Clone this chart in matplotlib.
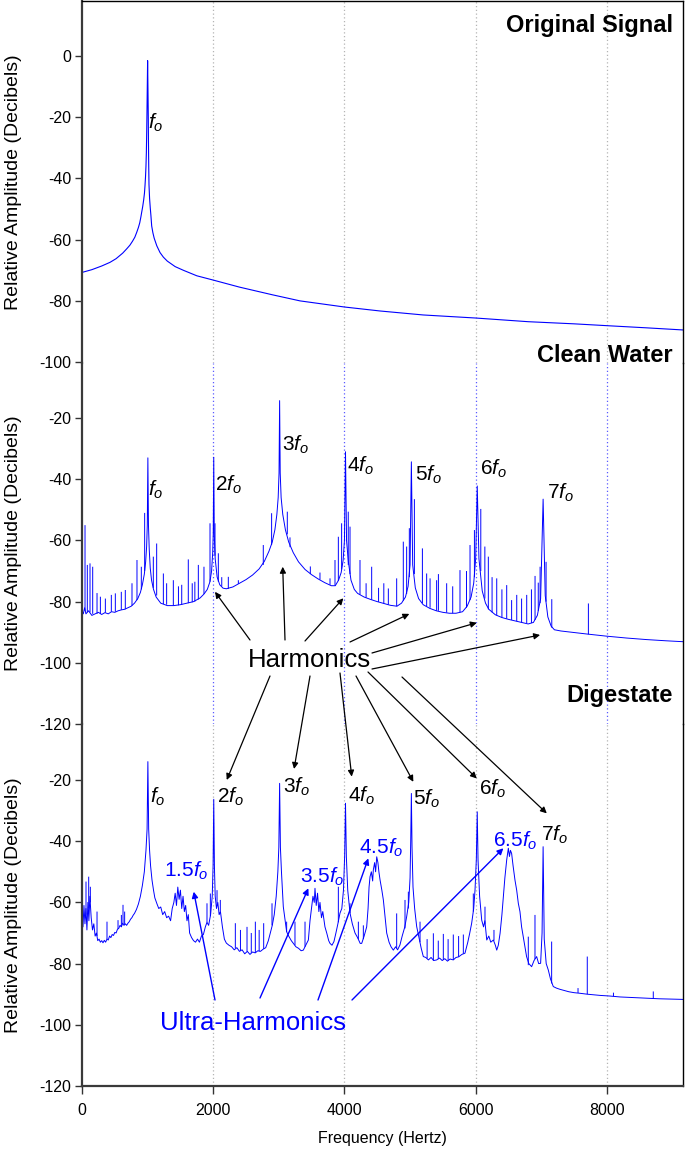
import numpy as np
import matplotlib
matplotlib.use('Agg')
import matplotlib.pyplot as plt

plt.rcParams['font.family'] = ['Liberation Sans', 'DejaVu Sans']
plt.rcParams['mathtext.fontset'] = 'custom'
plt.rcParams['mathtext.rm'] = 'Liberation Sans'
plt.rcParams['mathtext.it'] = 'Liberation Sans:italic'
plt.rcParams['axes.unicode_minus'] = False

# ---------------- data ----------------
# original signal spectrum (freq Hz, dB)
orig_trace = [
    (0, -70.7), (150, -69.8), (300, -68.6), (427, -67.4), (520, -66.2), (620, -64.4),
    (681, -63.0), (730, -61.8), (770, -60.5), (805, -59.2), (834, -57.6), (860, -56.0),
    (880, -54.5), (898, -52.5), (910, -51.0), (925, -49.2), (940, -47.0), (952, -44.8),
    (960, -42.4), (968, -39.5), (975, -36.0), (981, -31.5), (986, -25.0), (990, -19.0),
    (994, -12.0), (1000, -1.5), (1006, -12.0), (1010, -19.5), (1013, -28.0), (1017, -36.0),
    (1021, -42.0), (1030, -46.5), (1040, -49.5), (1050, -52.0), (1062, -55.5), (1080, -57.7),
    (1100, -59.5), (1140, -62.0), (1189, -64.2), (1240, -65.7), (1300, -67.0), (1420, -68.8),
    (1545, -70.0), (1750, -71.8), (2000, -73.2), (2400, -75.5), (2900, -78.0), (3323, -80.0),
    (4000, -82.0), (4543, -83.3), (5200, -84.6), (6000, -85.6), (6800, -86.8), (7500, -87.5),
    (8000, -88.1), (8600, -88.8), (9160, -89.5),
]

# clean water spectrum: baseline trace (freq, dB)
water_trace = [
    (0, -83.0), (20, -84.0), (40, -82.0), (60, -84.0), (100, -83.0), (150, -84.5), (200, -84.0),
    (250, -83.5), (300, -84.2), (350, -83.6), (400, -84.0), (450, -83.3), (500, -83.5),
    (550, -83.0), (600, -82.7), (650, -82.5), (700, -82.0), (750, -81.5), (800, -80.5),
    (850, -79.0), (890, -77.0), (920, -74.5), (950, -71.0), (970, -67.0), (985, -62.0),
    (995, -55.0), (1004, -33.0), (1013, -55.0), (1025, -63.0), (1040, -69.0), (1060, -73.0),
    (1090, -76.0), (1130, -78.5), (1200, -80.5), (1300, -81.3), (1400, -81.3), (1500, -81.0),
    (1600, -80.5), (1700, -80.0), (1800, -78.8), (1860, -77.5), (1910, -76.0), (1950, -73.5),
    (1975, -70.0), (1992, -64.0), (2000, -58.0), (2008, -32.8), (2016, -58.0), (2030, -66.0),
    (2060, -72.0), (2100, -74.5), (2150, -75.6), (2200, -75.8), (2300, -75.2), (2400, -74.0),
    (2500, -72.8), (2600, -71.3), (2700, -69.3), (2780, -66.8), (2850, -63.5), (2900, -60.5),
    (2940, -56.5), (2970, -51.5), (2990, -46.0), (3003, -38.0), (3012, -14.3), (3021, -38.0),
    (3035, -46.0), (3060, -51.5), (3100, -56.5), (3150, -60.5), (3220, -64.0), (3300, -67.0),
    (3400, -69.5), (3500, -71.2), (3600, -72.6), (3700, -73.8), (3800, -74.8), (3860, -74.8),
    (3910, -73.0), (3950, -70.5), (3980, -66.5), (4000, -60.0), (4016, -31.0), (4032, -60.0),
    (4060, -67.0), (4100, -73.0), (4150, -76.0), (4200, -77.3), (4300, -78.5), (4400, -79.3),
    (4500, -80.0), (4600, -80.6), (4700, -81.2), (4800, -81.5), (4870, -80.5), (4930, -78.5),
    (4970, -75.0), (5000, -68.0), (5020, -34.3), (5040, -68.0), (5080, -75.5), (5130, -79.0),
    (5200, -81.0), (5300, -82.2), (5400, -83.0), (5500, -83.5), (5600, -83.8), (5700, -83.8),
    (5800, -83.3), (5870, -81.5), (5930, -78.5), (5970, -74.0), (6000, -66.0), (6024, -42.2),
    (6050, -66.0), (6100, -76.5), (6150, -80.5), (6200, -82.5), (6300, -84.3), (6400, -85.2),
    (6500, -85.8), (6600, -86.3), (6700, -86.8), (6800, -87.3), (6880, -86.8), (6940, -84.5),
    (6990, -79.0), (7028, -46.5), (7060, -78.0), (7100, -85.0), (7150, -88.0), (7200, -89.2),
    (7300, -89.6), (7500, -90.1), (7700, -90.6), (8000, -91.3), (8300, -91.9), (8600, -92.4),
    (8900, -92.8), (9160, -93.1),
]

# clean water narrow spikes (freq, bottom dB, top dB)
water_spikes = [
    (46, -83.0, -55.0), (81, -83.5, -68.0), (122, -83.5, -67.5), (163, -84.0, -68.6),
    (229, -84.0, -77.2), (280, -84.0, -78.4), (356, -83.6, -79.0), (447, -83.3, -77.8),
    (508, -83.3, -77.3), (599, -82.7, -76.8), (660, -82.5, -76.2), (762, -81.3, -74.0),
    (838, -79.5, -66.4), (904, -76.0, -68.6), (955, -70.0, -51.0), (1087, -75.5, -65.3),
    (1138, -78.0, -61.0), (1240, -80.8, -70.8), (1290, -81.0, -74.0), (1392, -81.3, -73.0),
    (1470, -81.2, -75.0), (1520, -81.0, -74.5), (1620, -80.5, -66.2), (1680, -80.2, -74.0),
    (1720, -80.0, -73.5), (1773, -79.3, -68.0), (1859, -77.5, -68.6), (1951, -73.5, -54.4),
    (2027, -65.0, -54.4), (2078, -73.5, -64.2), (2130, -75.0, -72.0), (2230, -75.8, -71.9),
    (2383, -74.2, -73.0), (2763, -68.0, -61.5), (2890, -61.5, -51.1), (3129, -58.0, -50.6),
    (3170, -62.2, -59.0), (3480, -71.0, -68.5), (3627, -72.8, -70.5), (3780, -74.5, -72.4),
    (3856, -74.8, -66.4), (3907, -73.2, -58.8), (3957, -69.5, -54.4), (4058, -68.0, -50.6),
    (4085, -71.0, -55.5), (4237, -77.7, -66.4), (4330, -78.7, -74.0), (4415, -79.4, -68.6),
    (4520, -80.1, -75.5), (4600, -80.6, -74.0), (4669, -81.0, -75.7), (4796, -81.5, -72.4),
    (4897, -79.7, -60.4), (4948, -77.5, -62.0), (4989, -72.0, -56.0), (5066, -71.0, -46.5),
    (5188, -80.5, -62.6), (5253, -81.5, -70.8), (5305, -82.0, -72.4), (5405, -83.0, -73.0),
    (5432, -83.0, -71.0), (5558, -83.6, -74.0), (5650, -83.8, -75.0), (5761, -83.5, -69.7),
    (5860, -82.0, -70.0), (5914, -79.5, -61.5), (5981, -72.0, -56.6), (6078, -70.0, -49.7),
    (6140, -79.0, -62.0), (6193, -82.5, -65.3), (6250, -83.5, -72.0), (6321, -84.5, -72.4),
    (6400, -85.2, -76.0), (6473, -85.6, -74.6), (6548, -86.0, -79.5), (6626, -86.4, -77.8),
    (6700, -86.8, -79.0), (6778, -87.0, -77.8), (6850, -87.0, -76.0), (6905, -86.0, -71.6),
    (6954, -83.0, -73.8), (6982, -80.5, -68.6), (7073, -80.0, -67.0), (7160, -88.5, -79.2),
    (7718, -90.7, -80.6),
]

# digestate spectrum: baseline trace (freq, dB)
dig_trace = [
    (0, -64.0), (15, -68.0), (30, -61.0), (45, -67.0), (60, -62.0), (75, -69.0), (90, -60.0),
    (105, -66.0), (120, -58.0), (140, -65.0), (160, -69.0), (180, -67.0), (200, -71.0),
    (220, -70.0), (240, -72.5), (260, -72.0), (280, -73.0), (300, -72.5), (320, -73.2),
    (340, -72.4), (360, -73.0), (380, -72.0), (400, -72.3), (420, -71.0), (440, -71.5),
    (460, -70.5), (480, -70.8), (500, -69.8), (520, -70.0), (540, -68.8), (560, -68.5),
    (580, -67.5), (600, -68.0), (620, -66.8), (640, -67.5), (660, -67.0), (680, -67.5),
    (700, -66.8), (720, -66.3), (740, -65.5), (760, -65.0), (780, -64.2), (800, -63.6),
    (830, -62.3), (860, -60.5), (890, -58.0), (920, -54.5), (950, -50.0), (975, -43.0),
    (992, -36.0), (1004, -14.0), (1016, -36.0), (1030, -43.0), (1045, -48.0), (1067, -52.7),
    (1090, -56.0), (1110, -58.5), (1143, -60.5), (1170, -62.0), (1200, -61.5), (1230, -64.0),
    (1260, -63.0), (1290, -65.0), (1320, -64.5), (1350, -66.0), (1375, -62.0), (1400, -60.0),
    (1420, -57.0), (1440, -61.0), (1460, -55.0), (1480, -59.0), (1500, -56.0), (1520, -62.0),
    (1540, -58.0), (1560, -63.0), (1580, -61.0), (1600, -66.0), (1620, -64.0), (1640, -70.0),
    (1670, -71.5), (1700, -72.5), (1730, -73.0), (1760, -72.0), (1790, -73.0), (1820, -71.0),
    (1850, -70.5), (1880, -68.0), (1905, -66.5), (1930, -67.5), (1960, -64.0), (1985, -58.0),
    (1998, -48.0), (2008, -26.3), (2018, -48.0), (2030, -58.0), (2050, -62.0), (2070, -60.0),
    (2090, -64.0), (2110, -63.0), (2140, -68.0), (2170, -72.0), (2200, -73.3), (2240, -74.0),
    (2280, -74.5), (2320, -75.5), (2360, -74.8), (2400, -76.0), (2440, -75.5), (2480, -76.8),
    (2520, -76.0), (2560, -77.0), (2600, -76.2), (2640, -76.5), (2680, -75.8), (2720, -76.0),
    (2760, -75.3), (2800, -74.8), (2840, -72.5), (2870, -70.0), (2900, -67.5), (2930, -64.0),
    (2960, -58.0), (2985, -50.0), (3000, -42.0), (3012, -21.1), (3024, -42.0), (3040, -50.0),
    (3068, -61.4), (3090, -65.0), (3119, -69.6), (3150, -71.0), (3190, -72.5), (3221, -73.4),
    (3260, -74.5), (3300, -75.0), (3340, -75.8), (3373, -75.6), (3410, -74.0), (3450, -72.3),
    (3475, -66.0), (3500, -61.4), (3520, -58.0), (3540, -60.0), (3551, -55.4), (3570, -61.0),
    (3590, -57.0), (3610, -63.0), (3627, -60.0), (3650, -65.0), (3670, -63.0), (3703, -68.0),
    (3730, -70.0), (3760, -72.5), (3780, -73.4), (3810, -74.0), (3840, -72.8), (3870, -70.0),
    (3900, -67.0), (3932, -63.5), (3960, -62.0), (3985, -56.0), (4003, -45.0), (4016, -27.6),
    (4029, -45.0), (4050, -56.0), (4085, -63.5), (4120, -67.0), (4161, -70.0), (4200, -71.5),
    (4240, -73.4), (4263, -73.4), (4300, -71.0), (4339, -68.0), (4360, -62.0), (4375, -55.0),
    (4390, -51.6), (4410, -50.0), (4430, -53.0), (4440, -49.4), (4460, -47.0), (4475, -50.0),
    (4492, -45.1), (4510, -47.0), (4525, -50.0), (4543, -52.7), (4570, -56.0), (4593, -59.2),
    (4620, -65.0), (4644, -70.0), (4680, -73.0), (4710, -74.5), (4745, -75.6), (4780, -74.5),
    (4810, -75.5), (4846, -73.9), (4880, -71.0), (4920, -68.0), (4948, -64.7), (4980, -60.0),
    (5000, -52.0), (5010, -40.0), (5020, -24.4), (5030, -42.0), (5045, -55.0), (5070, -62.0),
    (5101, -67.9), (5140, -72.0), (5170, -75.0), (5202, -77.7), (5240, -78.0), (5280, -78.8),
    (5320, -78.0), (5360, -79.0), (5405, -78.8), (5450, -78.2), (5490, -79.0), (5530, -78.4),
    (5570, -79.2), (5610, -78.5), (5659, -78.8), (5700, -78.0), (5740, -77.8), (5790, -77.0),
    (5837, -76.6), (5880, -73.0), (5910, -70.0), (5939, -66.8), (5970, -62.0), (5990, -56.0),
    (6010, -46.0), (6024, -30.4), (6036, -46.0), (6060, -58.0), (6092, -65.8), (6120, -68.0),
    (6140, -66.0), (6169, -72.3), (6200, -71.0), (6230, -73.0), (6270, -72.3), (6300, -74.0),
    (6321, -75.6), (6345, -74.0), (6372, -70.1), (6400, -64.0), (6422, -58.1), (6445, -52.0),
    (6473, -46.1), (6498, -42.3), (6515, -45.0), (6530, -43.0), (6548, -44.0), (6570, -48.0),
    (6599, -52.7), (6625, -56.0), (6650, -60.3), (6675, -63.0), (6700, -68.0), (6740, -73.0),
    (6776, -77.7), (6810, -80.0), (6853, -81.0), (6890, -79.0), (6929, -77.7), (6960, -80.0),
    (6990, -79.9), (7012, -70.0), (7028, -41.8), (7045, -72.0), (7075, -80.0), (7107, -82.1),
    (7140, -85.0), (7183, -87.5), (7230, -88.0), (7284, -88.4), (7350, -88.8), (7420, -89.2),
    (7500, -89.5), (7589, -89.7), (7700, -90.0), (7800, -90.2), (7900, -90.4), (8046, -90.6),
    (8200, -90.9), (8400, -91.1), (8600, -91.3), (8800, -91.5), (9000, -91.6), (9160, -91.7),
]

# digestate narrow spikes (freq, bottom dB, top dB)
dig_spikes = [
    (61, -64.0, -53.2), (102, -62.0, -51.6), (127, -60.0, -54.9), (229, -71.0, -63.0),
    (381, -72.0, -66.3), (549, -68.7, -65.8), (600, -68.0, -64.1), (625, -67.0, -60.8),
    (650, -67.3, -63.0), (1905, -66.5, -60.3), (1956, -64.5, -57.1), (2058, -61.0, -56.0),
    (2108, -63.0, -59.2), (2337, -75.0, -66.8), (2415, -75.8, -69.0), (2515, -76.0, -68.0),
    (2580, -76.5, -70.0), (2642, -76.5, -66.3), (2700, -76.0, -69.0), (2769, -75.2, -66.8),
    (2896, -67.5, -60.3), (3119, -69.6, -66.3), (3246, -74.0, -66.3), (3399, -74.5, -66.3),
    (3907, -66.5, -54.9), (4085, -63.5, -60.3), (4212, -72.0, -66.3), (4288, -72.0, -67.5),
    (4796, -75.0, -63.6), (4923, -68.5, -59.2), (4974, -62.0, -56.5), (5152, -73.0, -66.3),
    (5260, -78.3, -72.0), (5355, -79.0, -70.1), (5430, -78.5, -72.5), (5507, -78.8, -70.3),
    (5580, -79.0, -72.0), (5659, -78.8, -70.5), (5740, -77.8, -71.0), (5812, -76.8, -70.5),
    (5964, -63.0, -57.1), (6142, -67.0, -61.4), (6279, -72.5, -69.0), (6802, -80.5, -71.2),
    (6904, -78.5, -64.1), (7158, -86.5, -72.8), (7560, -89.6, -88.0), (7701, -90.0, -77.7),
    (8100, -90.7, -89.5), (8707, -91.4, -89.1),
]

harmonic_labels = [r'$f_o$', r'$2f_o$', r'$3f_o$', r'$4f_o$', r'$5f_o$', r'$6f_o$', r'$7f_o$']
ultra_labels = [r'$\mathit{1.5}f_o$', r'$3.5f_o$', r'$4.5f_o$', r'$6.5f_o$']
panel_titles = ['Original Signal', 'Clean Water', 'Digestate']
grid_freqs = [2000, 4000, 6000, 8000]

# ---------------- figure ----------------
W, H = 685, 1161
BLUE = '#0000ff'


def fx(x):
    return x / W


def fy(y):
    return 1 - y / H


fig = plt.figure(figsize=(W / 100, H / 100), dpi=100)
left, right = 82, 683
tops = [1, 362.7, 724.3, 1086]
axes = []
for i in range(3):
    ax = fig.add_axes([fx(left), fy(tops[i + 1]), (right - left) / W, (tops[i + 1] - tops[i]) / H])
    ax.set_facecolor('none')
    axes.append(ax)
ax_o, ax_w, ax_d = axes

ylims = [(-100.2, 18.0), (-120.1, -1.9), (-120.0, -1.8)]
yticks = [[0, -20, -40, -60, -80, -100], [-20, -40, -60, -80, -100, -120],
          [-20, -40, -60, -80, -100, -120]]
grid_cols = ['#b4b4b4', '#5a5aff', '#b4b4b4']

for i, ax in enumerate(axes):
    ax.set_xlim(0, 9160)
    ax.set_ylim(*ylims[i])
    ax.set_yticks(yticks[i])
    ax.tick_params(axis='y', direction='out', length=5, width=1, pad=2.5, labelsize=11.5,
                   color='#333333')
    for g in grid_freqs:
        ax.axvline(g, color=grid_cols[i], ls=(0, (1, 2)), lw=0.9, zorder=0)
    ax.spines['left'].set_linewidth(1.6)
    ax.spines['left'].set_color('#3a3a3a')
    ax.spines['right'].set_linewidth(1.0)
    ax.spines['right'].set_color('black')
    if i > 0:
        ax.spines['top'].set_visible(False)
    if i < 2:
        ax.spines['bottom'].set_visible(False)
        ax.set_xticks([])
    fig.text(fx(14), fy((tops[i] + tops[i + 1]) / 2), 'Relative Amplitude (Decibels)',
             rotation=90, ha='center', va='center', fontsize=14)

ax_o.spines['top'].set_linewidth(1.0)
ax_d.spines['bottom'].set_linewidth(1.6)
ax_d.spines['bottom'].set_color('#3a3a3a')
ax_d.set_xticks([0, 2000, 4000, 6000, 8000])
ax_d.tick_params(axis='x', direction='out', length=6, width=1, pad=6, labelsize=11.5,
                 color='#333333')
fig.text(fx(382.5), fy(1138), 'Frequency (Hertz)', ha='center', va='center', fontsize=11.5)

# spectra
of, od = np.array(orig_trace).T
ax_o.plot(of, od, color=BLUE, lw=0.8)

wf, wd = np.array(water_trace).T
ws = np.array(water_spikes)
ax_w.vlines(ws[:, 0], ws[:, 1], ws[:, 2], color=BLUE, lw=0.7, snap=False)
ax_w.plot(wf, wd, color=BLUE, lw=0.7)

df, dd = np.array(dig_trace).T
ds = np.array(dig_spikes)
ax_d.vlines(ds[:, 0], ds[:, 1], ds[:, 2], color=BLUE, lw=0.7, snap=False)
ax_d.plot(df, dd, color=BLUE, lw=0.7)

# panel titles
for title, base in zip(panel_titles, [31.7, 361.7, 701.7]):
    fig.text(fx(673), fy(base), title, ha='right', va='baseline', fontsize=17,
             fontweight='bold')

# harmonic labels
lab_kw = dict(fontsize=15, ha='left', va='center')
ax_o.text(1010, -21.9, harmonic_labels[0], **lab_kw)
water_lab_pos = [(1000, -43.5), (2032, -41.9), (3044, -28.8), (4035, -35.7), (5075, -38.6),
                 (6063, -36.7), (7082, -44.5)]
for lab, (x, y) in zip(harmonic_labels, water_lab_pos):
    ax_w.text(x, y, lab, **lab_kw)
dig_lab_pos = [(1041, -25.5), (2058, -25.6), (3069, -22.3), (4060, -25.2), (5051, -26.0),
               (6057, -23.0), (6993, -38.0)]
for lab, (x, y) in zip(harmonic_labels, dig_lab_pos):
    ax_d.text(x, y, lab, **lab_kw)
ultra_pos = [(1245, -49.8), (3323, -51.8), (4228, -42.2), (6270, -40.0)]
for lab, (x, y) in zip(ultra_labels, ultra_pos):
    ax_d.text(x, y, lab, color=BLUE, **lab_kw)

fig.text(fx(248), fy(666.7), 'Harmonics', ha='left', va='baseline', fontsize=18.5)
fig.text(fx(160), fy(1030), 'Ultra-Harmonics', ha='left', va='baseline', fontsize=18.5,
         color=BLUE)


def arrow(ax, tip, start, color='black', lw=0.9):
    ax.annotate('', xy=tip, xycoords='data', xytext=(fx(start[0]), fy(start[1])),
                textcoords='figure fraction', annotation_clip=False,
                arrowprops=dict(arrowstyle='-|>', color=color, lw=lw, shrinkA=0, shrinkB=0,
                                mutation_scale=9))


water_tips = [(2027, -76.8), (3059, -68.6), (3983, -78.9), (4989, -84.0), (6017, -86.9),
              (6982, -90.9)]
water_starts = [(250, 640), (285, 640), (305, 641), (350, 642), (372, 653), (372, 669)]
for tip, st in zip(water_tips, water_starts):
    arrow(ax_w, tip, st)

dig_tips = [(2206, -20.0), (3232, -16.4), (4111, -18.9), (5050, -20.6), (6017, -19.5),
            (7084, -30.9)]
dig_starts = [(270, 676), (310, 676), (340, 673), (356, 676), (368, 672), (402, 677)]
for tip, st in zip(dig_tips, dig_starts):
    arrow(ax_d, tip, st)

ultra_tips = [(1703, -56.5), (3450, -55.4), (4364, -45.6), (6422, -42.3)]
ultra_starts = [(215, 1000), (260, 998), (318, 1000), (352, 1000)]
for tip, st in zip(ultra_tips, ultra_starts):
    arrow(ax_d, tip, st, color=BLUE, lw=1.0)

fig.savefig('out.png', dpi=100)
